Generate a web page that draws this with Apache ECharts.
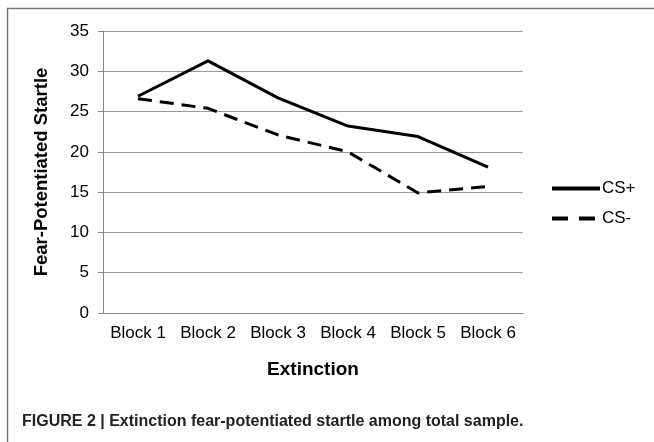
<!DOCTYPE html>
<html>
<head>
<meta charset="utf-8">
<script src="https://cdn.jsdelivr.net/npm/echarts@6/dist/echarts.min.js"></script>
<style>
  html, body { margin: 0; padding: 0; background: #fff; }
  #chart { width: 654px; height: 442px; }
</style>
</head>
<body>
<div id="chart"></div>
<script>
// data
const blocks = ['Block 1', 'Block 2', 'Block 3', 'Block 4', 'Block 5', 'Block 6']
const csPlus = [26.9, 31.3, 26.7, 23.2, 21.9, 18.1]
const csMinus = [26.6, 25.4, 22.1, 20.0, 14.9, 15.7]
const yTicks = [0, 5, 10, 15, 20, 25, 30, 35]

const myChart = echarts.init(document.getElementById('chart'))
const font = 'Liberation Sans, Arial, sans-serif'

const option = {
  animation: false,
  textStyle: { fontFamily: font },
  graphic: [
    { // frame round the figure
      type: 'rect',
      shape: { x: 7.5, y: 8.5, width: 660, height: 460 },
      style: { fill: 'none', stroke: '#777', lineWidth: 1.5 }
    },
    {
      type: 'text',
      left: 22,
      top: 414,
      style: {
        text: 'FIGURE 2 | Extinction fear-potentiated startle among total sample.',
        font: 'bold 16px ' + font,
        fill: '#222'
      }
    }
  ],
  legend: {
    orient: 'vertical',
    left: 545,
    top: 175,
    itemWidth: 48,
    itemHeight: 14,
    itemGap: 13,
    itemStyle: { opacity: 0 },
    textStyle: { fontSize: 17, color: '#000', padding: [0, 0, 0, -3] },
    data: [
      { name: 'CS+', lineStyle: { width: 4 } },
      { name: 'CS-', lineStyle: { width: 4, type: [16, 11] } }
    ]
  },
  grid: { left: 103, right: 131, top: 31, bottom: 129 },
  xAxis: {
    type: 'category',
    data: blocks,
    boundaryGap: true,
    name: 'Extinction',
    nameLocation: 'middle',
    nameGap: 47,
    nameTextStyle: { fontSize: 19, fontWeight: 'bold', color: '#000' },
    axisLine: { lineStyle: { color: '#888', width: 1 } },
    axisTick: { length: 5, interval: 0, lineStyle: { color: '#888' } },
    axisLabel: { fontSize: 17, color: '#000', margin: 12, interval: 0 }
  },
  yAxis: {
    type: 'value',
    min: yTicks[0],
    max: yTicks[yTicks.length - 1],
    interval: 5,
    name: 'Fear-Potentiated Startle',
    nameLocation: 'middle',
    nameGap: 52,
    nameTextStyle: { fontSize: 18.5, fontWeight: 'bold', color: '#000' },
    axisLine: { show: true, lineStyle: { color: '#888', width: 1 } },
    axisTick: { show: true, length: 5, lineStyle: { color: '#888' } },
    axisLabel: { fontSize: 17, color: '#000', margin: 14 },
    splitLine: { lineStyle: { color: '#999', width: 1 } }
  },
  series: [
    {
      name: 'CS+',
      type: 'line',
      data: csPlus,
      symbol: 'none',
      lineStyle: { color: '#000', width: 3 },
      itemStyle: { color: '#000' }
    },
    {
      name: 'CS-',
      type: 'line',
      data: csMinus,
      symbol: 'none',
      lineStyle: { color: '#000', width: 3, type: [14, 8] },
      itemStyle: { color: '#000' }
    }
  ]
}
myChart.setOption(option)
</script>
</body>
</html>
